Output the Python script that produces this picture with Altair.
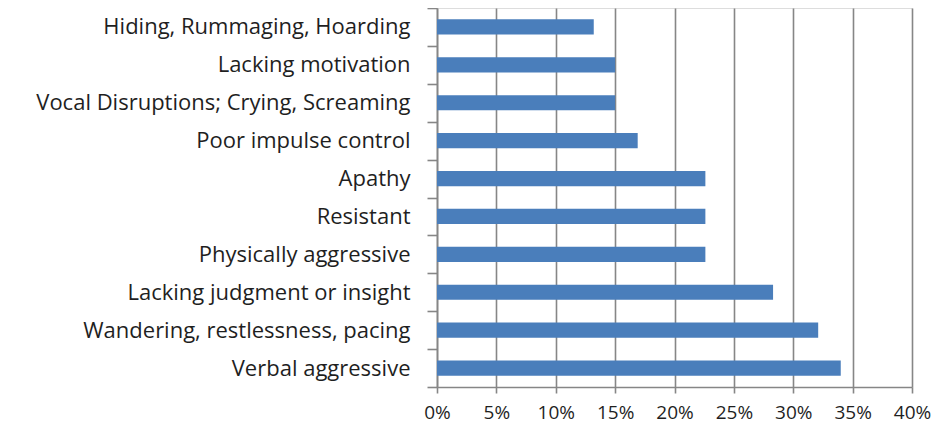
import altair as alt
import pandas as pd

categories = [
    "Hiding, Rummaging, Hoarding",
    "Lacking motivation",
    "Vocal Disruptions; Crying, Screaming",
    "Poor impulse control",
    "Apathy",
    "Resistant",
    "Physically aggressive",
    "Lacking judgment or insight",
    "Wandering, restlessness, pacing",
    "Verbal aggressive",
]
values = [0.132, 0.150, 0.150, 0.169, 0.226, 0.226, 0.226, 0.283, 0.321, 0.340]
tick_values = [0, 0.05, 0.10, 0.15, 0.20, 0.25, 0.30, 0.35, 0.40]

df = pd.DataFrame({"category": categories, "value": values})

FONT = "Open Sans"
GRID = "#868686"

chart = (
    alt.Chart(df)
    .mark_bar(color="#4a7ebb", height=alt.RelativeBandSize(0.4))
    .encode(
        x=alt.X(
            "value:Q",
            scale=alt.Scale(domain=[0, 0.4], nice=False),
            axis=alt.Axis(
                values=tick_values,
                format=".0%",
                title=None,
                grid=True,
                gridColor=GRID,
                gridWidth=1.6,
                domainColor=GRID,
                domainWidth=1.6,
                tickColor=GRID,
                tickWidth=1.6,
                tickSize=6,
                labelPadding=10,
                labelFlush=False,
                labelFont=FONT,
                labelFontSize=19,
                labelColor="#1f1f1f",
            ),
        ),
        y=alt.Y(
            "category:N",
            sort=categories,
            scale=alt.Scale(paddingInner=0, paddingOuter=0),
            axis=alt.Axis(
                title=None,
                tickBand="extent",
                domainColor=GRID,
                domainWidth=1.6,
                tickColor=GRID,
                tickWidth=1.6,
                tickSize=10,
                labelPadding=17,
                labelFont=FONT,
                labelFontSize=22,
                labelColor="#1f1f1f",
                labelLimit=0,
            ),
        ),
    )
    .properties(
        width=475,
        height=379,
        autosize=alt.AutoSizeParams(type="none"),
        padding={"left": 429, "top": 0, "right": 20, "bottom": 38},
    )
    .configure_view(stroke=None)
    .configure(background="white")
)

chart.save("out.html", embed_options={"renderer": "svg", "actions": False})
